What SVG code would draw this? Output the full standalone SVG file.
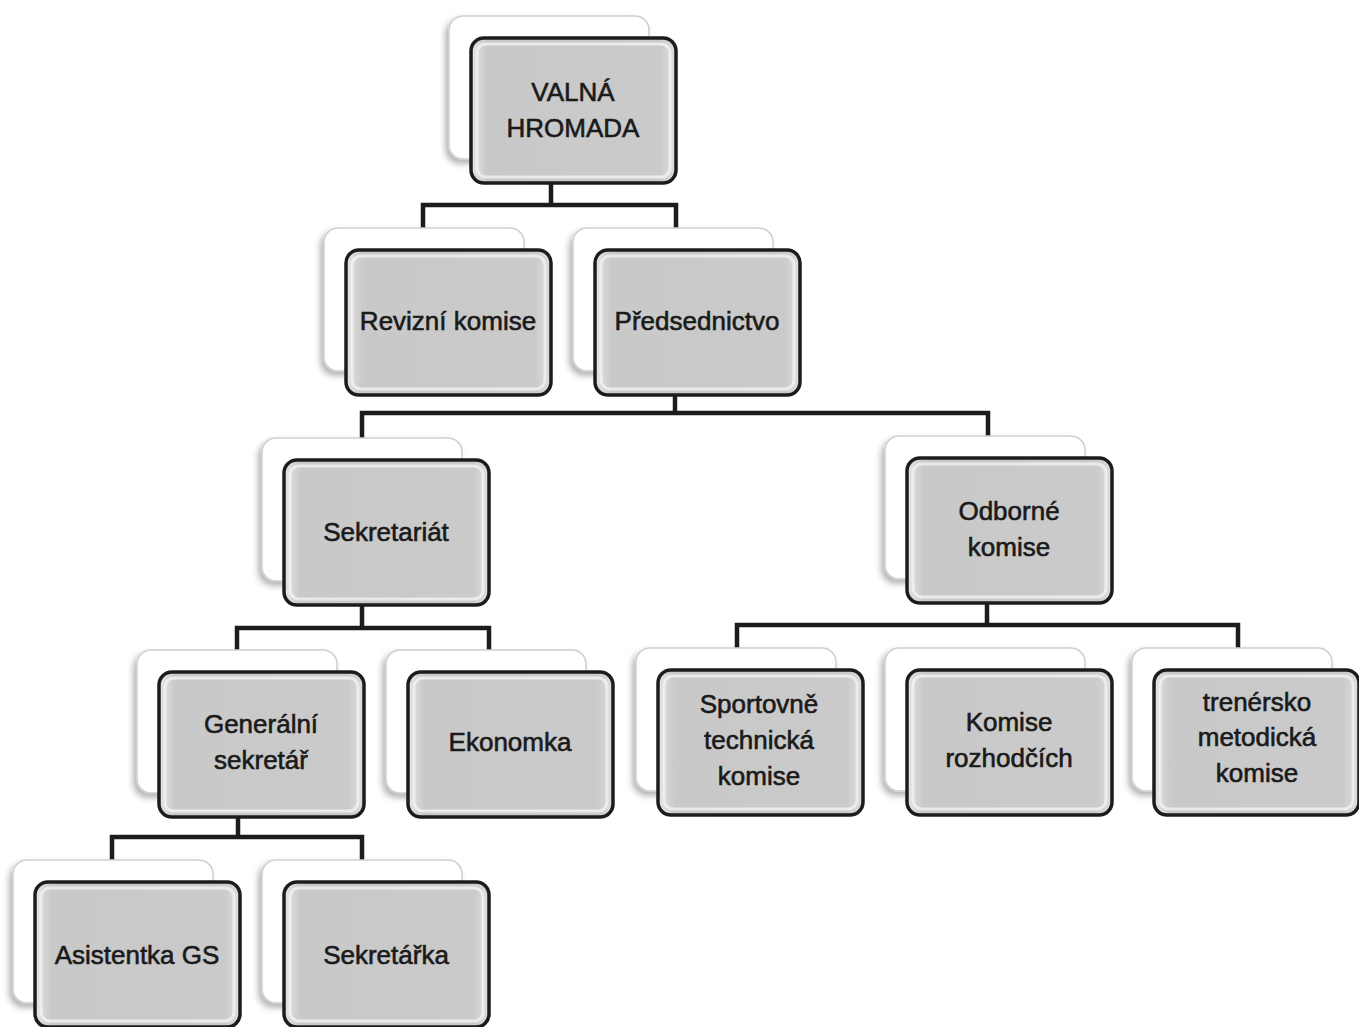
<svg xmlns="http://www.w3.org/2000/svg" width="1359" height="1027" viewBox="0 0 1359 1027">
<defs>
<style>
.back{fill:#ffffff;stroke:#cfcfcf;stroke-width:1.5;filter:url(#sh)}
.front{fill:url(#g);stroke:#1c1c1c;stroke-width:3.5}
.hl{fill:none;stroke:#f2f2f2;stroke-width:3;opacity:0.8}
.t{font-family:"Liberation Sans",Arial,sans-serif;font-size:26px;fill:#1a1a1a;stroke:#1a1a1a;stroke-width:0.6;text-anchor:middle}
.con{fill:none;stroke:#1c1c1c;stroke-width:4.5;stroke-linejoin:miter}
</style>
<linearGradient id="g" x1="0" y1="0" x2="1" y2="0">
<stop offset="0" stop-color="#e6e6e6"/>
<stop offset="0.08" stop-color="#c9c9c9"/>
<stop offset="0.92" stop-color="#cacaca"/>
<stop offset="1" stop-color="#dedede"/>
</linearGradient>
<filter id="sh" x="-10%" y="-10%" width="120%" height="125%">
<feDropShadow dx="-3" dy="4" stdDeviation="3" flood-color="#000" flood-opacity="0.3"/>
</filter>
<g id="card">
<rect class="back" x="-22" y="-22" width="200" height="143" rx="14"/>
<rect class="front" x="0" y="0" width="205" height="145" rx="13"/>
<rect class="hl" x="6" y="6" width="193" height="133" rx="9"/>
</g>
</defs>
<rect width="1359" height="1027" fill="#ffffff"/>
<g id="connectors">
<path class="con" d="M551,183 V205 M423,250 V205 H676 V250"/>
<path class="con" d="M675,393 V413 M362,460 V413 H988 V458"/>
<path class="con" d="M362,605 V628 M237,672 V628 H489 V672"/>
<path class="con" d="M987,603 V625 M737,670 V625 H1238 V670"/>
<path class="con" d="M238,817 V837 M112,882 V837 H362 V882"/>
</g>
<g id="valna-hromada"><use href="#card" x="471" y="38"/><text class="t" x="573" y="101">VALNÁ</text><text class="t" x="573" y="137">HROMADA</text></g>
<g id="revizni-komise"><use href="#card" x="346" y="250"/><text class="t" x="448" y="330">Revizní komise</text></g>
<g id="predsednictvo"><use href="#card" x="595" y="250"/><text class="t" x="697" y="330">Předsednictvo</text></g>
<g id="sekretariat"><use href="#card" x="284" y="460"/><text class="t" x="386" y="541">Sekretariát</text></g>
<g id="odborne-komise"><use href="#card" x="907" y="458"/><text class="t" x="1009" y="520">Odborné</text><text class="t" x="1009" y="556">komise</text></g>
<g id="generalni-sekretar"><use href="#card" x="159" y="672"/><text class="t" x="261" y="733">Generální</text><text class="t" x="261" y="769">sekretář</text></g>
<g id="ekonomka"><use href="#card" x="408" y="672"/><text class="t" x="510" y="751">Ekonomka</text></g>
<g id="sportovne-technicka-komise"><use href="#card" x="658" y="670"/><text class="t" x="759" y="713">Sportovně</text><text class="t" x="759" y="749">technická</text><text class="t" x="759" y="785">komise</text></g>
<g id="komise-rozhodcich"><use href="#card" x="907" y="670"/><text class="t" x="1009" y="731">Komise</text><text class="t" x="1009" y="767">rozhodčích</text></g>
<g id="trenersko-metodicka-komise"><use href="#card" x="1154" y="670"/><text class="t" x="1257" y="711">trenérsko</text><text class="t" x="1257" y="746">metodická</text><text class="t" x="1257" y="782">komise</text></g>
<g id="asistentka-gs"><use href="#card" x="35" y="882"/><text class="t" x="137" y="964">Asistentka GS</text></g>
<g id="sekretarka"><use href="#card" x="284" y="882"/><text class="t" x="386" y="964">Sekretářka</text></g>
</svg>
